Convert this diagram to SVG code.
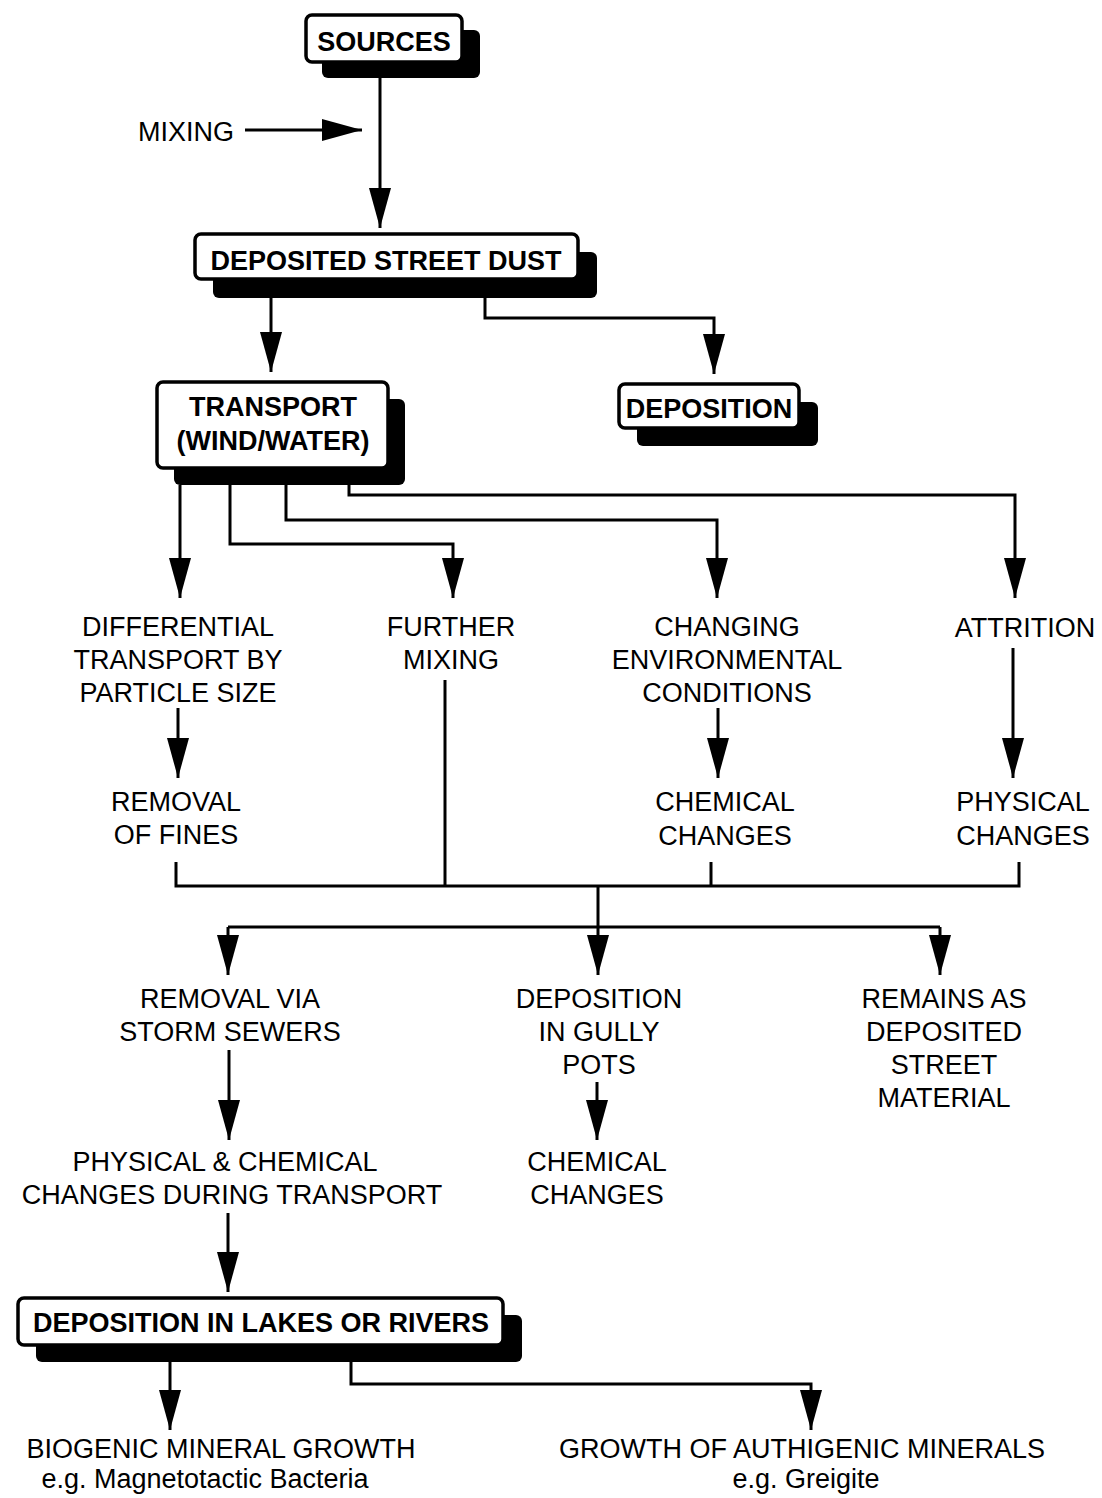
<svg xmlns="http://www.w3.org/2000/svg" width="1102" height="1498" viewBox="0 0 1102 1498">
<defs>
<marker id="ah" markerUnits="userSpaceOnUse" markerWidth="42" markerHeight="24" refX="40" refY="11" orient="auto">
<path d="M0,0 L40,11 L0,22 z" fill="#000"/>
</marker>
<style>
.t{font-family:"Liberation Sans",Arial,sans-serif;font-size:27px;fill:#000;text-anchor:middle}
.b{font-family:"Liberation Sans",Arial,sans-serif;font-size:27px;font-weight:bold;fill:#000;text-anchor:middle}
.box{fill:#fff;stroke:#000;stroke-width:3.5}
.sh{fill:#000}
.c{fill:none;stroke:#000;stroke-width:3}
.a{marker-end:url(#ah)}
</style>
</defs>
<rect width="1102" height="1498" fill="#fff"/>

<g id="connectors">
<path class="c a" d="M245,130 H362"/>
<path class="c a" d="M380,78 V228"/>
<path class="c a" d="M271,298 V372"/>
<path class="c a" d="M485,298 V318 H714 V374"/>
<path class="c a" d="M180,485 V598"/>
<path class="c a" d="M230,485 V544 H453 V598"/>
<path class="c a" d="M286,485 V520 H717 V598"/>
<path class="c a" d="M349,485 V495 H1015 V598"/>
<path class="c a" d="M178,708 V778"/>
<path class="c a" d="M718,708 V778"/>
<path class="c a" d="M1013,648 V778"/>
<path class="c" d="M176,862 V886 H1019 V862"/>
<path class="c" d="M445,680 V886"/>
<path class="c" d="M711,862 V886"/>
<path class="c a" d="M598,886 V975"/>
<path class="c" d="M228,927 H940"/>
<path class="c a" d="M228,927 V975"/>
<path class="c a" d="M940,927 V975"/>
<path class="c a" d="M229,1050 V1140"/>
<path class="c a" d="M597,1082 V1140"/>
<path class="c a" d="M228,1213 V1292"/>
<path class="c a" d="M170,1362 V1430"/>
<path class="c a" d="M351,1362 V1384 H811 V1430"/>
</g>

<g id="sources">
<rect class="sh" x="322" y="30" width="158" height="48" rx="6"/>
<rect class="box" x="306" y="15" width="156" height="47" rx="6"/>
<text class="b" x="384" y="51">SOURCES</text>
</g>

<g id="mixing">
<text class="t" x="186" y="141">MIXING</text>
</g>

<g id="deposited-street-dust">
<rect class="sh" x="213" y="252" width="384" height="46" rx="6"/>
<rect class="box" x="195" y="234" width="383" height="45" rx="6"/>
<text class="b" x="386" y="270">DEPOSITED STREET DUST</text>
</g>

<g id="transport">
<rect class="sh" x="174" y="399" width="231" height="86" rx="6"/>
<rect class="box" x="157" y="382" width="231" height="86" rx="6"/>
<text class="b" x="273" y="416">TRANSPORT</text>
<text class="b" x="273" y="450">(WIND/WATER)</text>
</g>

<g id="deposition">
<rect class="sh" x="637" y="402" width="181" height="44" rx="6"/>
<rect class="box" x="619" y="384" width="180" height="44" rx="6"/>
<text class="b" x="709" y="418">DEPOSITION</text>
</g>

<g id="differential">
<text class="t" x="178" y="636">DIFFERENTIAL</text>
<text class="t" x="178" y="669">TRANSPORT BY</text>
<text class="t" x="178" y="702">PARTICLE SIZE</text>
</g>

<g id="further-mixing">
<text class="t" x="451" y="636">FURTHER</text>
<text class="t" x="451" y="669">MIXING</text>
</g>

<g id="changing">
<text class="t" x="727" y="636">CHANGING</text>
<text class="t" x="727" y="669">ENVIRONMENTAL</text>
<text class="t" x="727" y="702">CONDITIONS</text>
</g>

<g id="attrition">
<text class="t" x="1025" y="637">ATTRITION</text>
</g>

<g id="removal-fines">
<text class="t" x="176" y="811">REMOVAL</text>
<text class="t" x="176" y="844">OF FINES</text>
</g>

<g id="chemical-changes-1">
<text class="t" x="725" y="811">CHEMICAL</text>
<text class="t" x="725" y="845">CHANGES</text>
</g>

<g id="physical-changes">
<text class="t" x="1023" y="811">PHYSICAL</text>
<text class="t" x="1023" y="845">CHANGES</text>
</g>

<g id="removal-sewers">
<text class="t" x="230" y="1008">REMOVAL VIA</text>
<text class="t" x="230" y="1041">STORM SEWERS</text>
</g>

<g id="gully-pots">
<text class="t" x="599" y="1008">DEPOSITION</text>
<text class="t" x="599" y="1041">IN GULLY</text>
<text class="t" x="599" y="1074">POTS</text>
</g>

<g id="remains">
<text class="t" x="944" y="1008">REMAINS AS</text>
<text class="t" x="944" y="1041">DEPOSITED</text>
<text class="t" x="944" y="1074">STREET</text>
<text class="t" x="944" y="1107">MATERIAL</text>
</g>

<g id="phys-chem-transport">
<text class="t" x="225" y="1171">PHYSICAL &amp; CHEMICAL</text>
<text class="t" x="232" y="1204">CHANGES DURING TRANSPORT</text>
</g>

<g id="chemical-changes-2">
<text class="t" x="597" y="1171">CHEMICAL</text>
<text class="t" x="597" y="1204">CHANGES</text>
</g>

<g id="deposition-lakes">
<rect class="sh" x="36" y="1315" width="486" height="47" rx="6"/>
<rect class="box" x="18" y="1298" width="485" height="47" rx="6"/>
<text class="b" x="261" y="1332">DEPOSITION IN LAKES OR RIVERS</text>
</g>

<g id="biogenic">
<text class="t" x="221" y="1458">BIOGENIC MINERAL GROWTH</text>
<text class="t" x="205" y="1488">e.g. Magnetotactic Bacteria</text>
</g>

<g id="authigenic">
<text class="t" x="802" y="1458">GROWTH OF AUTHIGENIC MINERALS</text>
<text class="t" x="806" y="1488">e.g. Greigite</text>
</g>
</svg>
